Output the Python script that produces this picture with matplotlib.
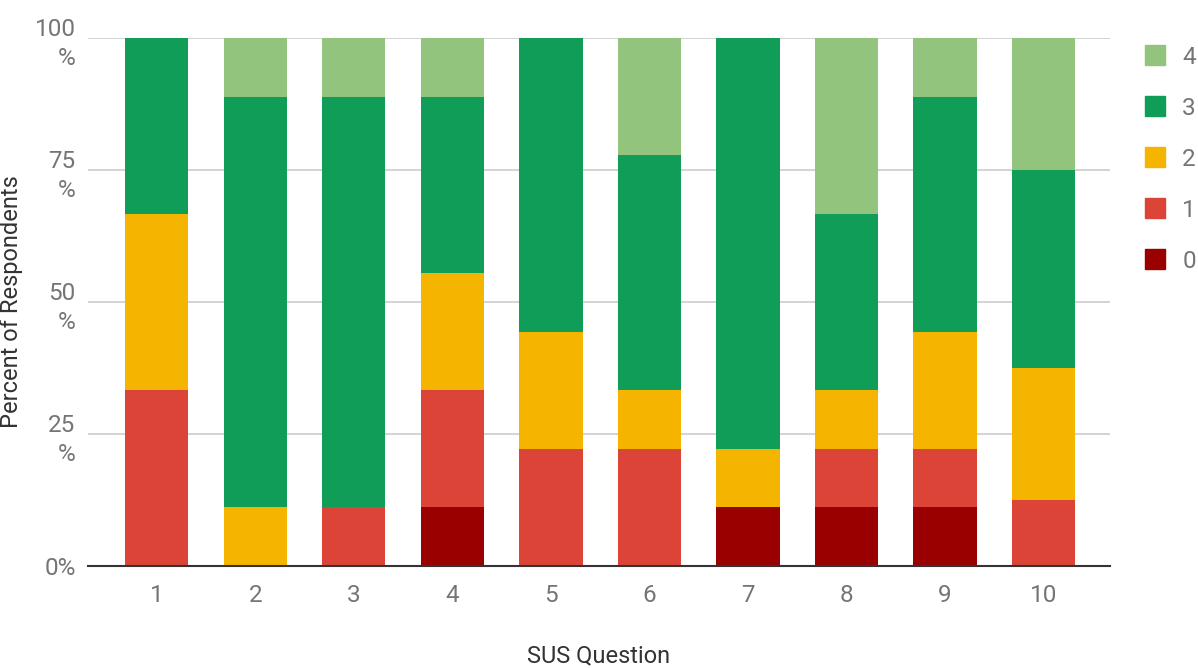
import matplotlib
matplotlib.use("Agg")
import matplotlib.pyplot as plt
from matplotlib.lines import Line2D
import numpy as np

plt.rcParams['font.family'] = ['Roboto', 'DejaVu Sans']

questions = ["1", "2", "3", "4", "5", "6", "7", "8", "9", "10"]
# Percent of respondents giving each score, per SUS question
score_0 = [0.0, 0.0, 0.0, 11.1, 0.0, 0.0, 11.1, 11.1, 11.1, 0.0]
score_1 = [33.3, 0.0, 11.1, 22.2, 22.2, 22.2, 0.0, 11.1, 11.1, 12.5]
score_2 = [33.3, 11.1, 0.0, 22.2, 22.2, 11.1, 11.1, 11.1, 22.2, 25.0]
score_3 = [33.4, 77.8, 77.8, 33.4, 55.6, 44.5, 77.8, 33.4, 44.5, 37.5]
score_4 = [0.0, 11.1, 11.1, 11.1, 0.0, 22.2, 0.0, 33.3, 11.1, 25.0]

series = [("0", score_0, "#990000"),
          ("1", score_1, "#db4437"),
          ("2", score_2, "#f4b400"),
          ("3", score_3, "#0f9d58"),
          ("4", score_4, "#93c47d")]

y_ticks = [0, 25, 50, 75, 100]
y_tick_labels = ["0%", "25\n%", "50\n%", "75\n%", "100\n%"]

fig = plt.figure(figsize=(11.98, 6.68), dpi=100)
ax = fig.add_axes([88 / 1198, 1 - 566 / 668, (1110 - 88) / 1198, (566 - 38) / 668])

x = np.arange(len(questions))
bottom = np.zeros(len(questions))
for name, vals, color in series:
    vals = np.array(vals)
    ax.bar(x, vals, width=0.64, bottom=bottom, color=color, zorder=2, linewidth=0)
    bottom += vals

ax.set_xlim(-0.70, 9.675)
ax.set_ylim(0, 100)
ax.set_yticks(y_ticks)
ax.set_yticklabels(y_tick_labels, linespacing=1.35)
ax.set_xticks(x)
ax.set_xticklabels(questions)

ax.tick_params(axis='both', length=0, labelsize=17.5, labelcolor="#757575")
ax.tick_params(axis='y', pad=9)
ax.tick_params(axis='x', pad=13)
for lab in ax.get_yticklabels():
    lab.set_horizontalalignment('right')
    lab.set_multialignment('right')

ax.grid(axis='y', color="#cccccc", linewidth=1.2, zorder=0)
for sp in ["top", "right", "left"]:
    ax.spines[sp].set_visible(False)
ax.spines["bottom"].set_color("#333333")
ax.spines["bottom"].set_linewidth(1.5)
ax.spines["bottom"].set_zorder(3)

ax.set_xlabel("SUS Question", fontsize=17, color="#333333", labelpad=27)
ax.set_ylabel("Percent of Respondents", fontsize=17, color="#333333", labelpad=8)

handles = [Line2D([], [], marker='s', linestyle='none', markersize=14,
                  markerfacecolor=c, markeredgecolor=c) for _, _, c in reversed(series)]
labels = [n for n, _, _ in reversed(series)]
leg = fig.legend(handles, labels, loc='upper left', bbox_to_anchor=(1136 / 1198, 1 - 46 / 668),
                 frameon=False, fontsize=17.5, labelspacing=1.15, handletextpad=0.3,
                 handlelength=1.6, borderaxespad=0, borderpad=0)
for t in leg.get_texts():
    t.set_color("#757575")

fig.savefig("out.png", dpi=100, facecolor="white")
